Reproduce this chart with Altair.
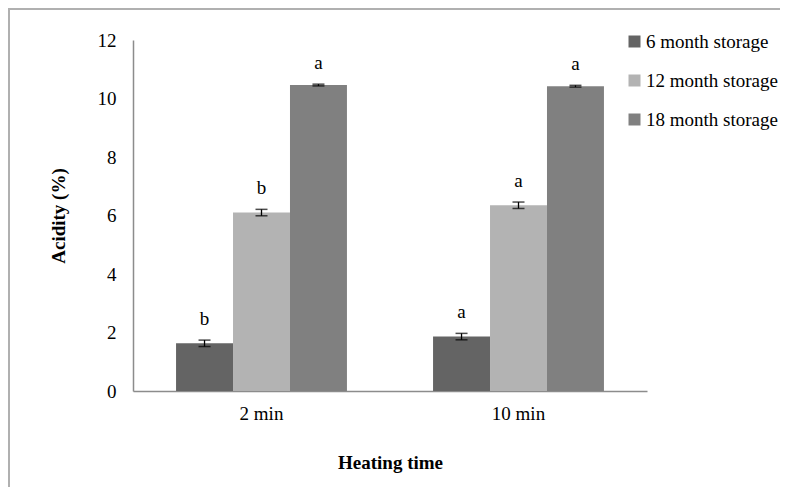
import altair as alt
import pandas as pd

times = ["2 min", "10 min"]
storages = ["6 month storage", "12 month storage", "18 month storage"]
acidity_2min = [1.63, 6.10, 10.46]
acidity_10min = [1.86, 6.35, 10.42]
err_2min = [0.11, 0.11, 0.03]
err_10min = [0.11, 0.11, 0.03]
letters_2min = ["b", "b", "a"]
letters_10min = ["a", "a", "a"]
colors = ["#646464", "#b3b3b3", "#808080"]

rows = []
for t, vals, errs, lets in [
    (times[0], acidity_2min, err_2min, letters_2min),
    (times[1], acidity_10min, err_10min, letters_10min),
]:
    for s, v, e, l in zip(storages, vals, errs, lets):
        rows.append({"time": t, "storage": s, "acidity": v, "lo": v - e, "hi": v + e, "letter": l})
df = pd.DataFrame(rows)

FONT = "Liberation Serif"
FS = 19

x = alt.X("time:N", sort=times,
          scale=alt.Scale(paddingInner=0.335, paddingOuter=0.1675),
          axis=alt.Axis(title="Heating time", labelAngle=0, ticks=False, labelPadding=13,
                        domainColor="#8c8c8c", domainWidth=1.5, titlePadding=30))
xo = alt.XOffset("storage:N", sort=storages, scale=alt.Scale(paddingInner=0, paddingOuter=0))

base = alt.Chart(df)

bars = base.mark_bar(stroke=None).encode(
    x=x, xOffset=xo,
    y=alt.Y("acidity:Q", scale=alt.Scale(domain=[0, 12], nice=False),
            axis=alt.Axis(title="Acidity (%)", values=[0, 2, 4, 6, 8, 10, 12], ticks=False,
                          grid=False, labelPadding=17, domainColor="#8c8c8c", domainWidth=1.5,
                          titlePadding=29)),
    color=alt.Color("storage:N", sort=storages,
                    scale=alt.Scale(domain=storages, range=colors),
                    legend=alt.Legend(title=None, orient="none", legendX=492, legendY=-8,
                                      symbolType="square", symbolSize=144, symbolStrokeWidth=0,
                                      symbolOpacity=1, labelFontSize=FS, labelFont=FONT,
                                      labelColor="#000", rowPadding=19, labelOffset=2,
                                      labelLimit=300)),
)

rules = base.mark_rule(color="black", strokeWidth=1.3).encode(
    x=x, xOffset=xo, y="lo:Q", y2="hi:Q")
caps_lo = base.mark_tick(color="black", thickness=1.5, size=12, orient="horizontal").encode(
    x=x, xOffset=xo, y="lo:Q")
caps_hi = base.mark_tick(color="black", thickness=1.5, size=12, orient="horizontal").encode(
    x=x, xOffset=xo, y="hi:Q")
labels = base.mark_text(font=FONT, fontSize=FS, dy=-15, color="black", baseline="alphabetic").encode(
    x=x, xOffset=xo, y="hi:Q", text="letter:N", detail="storage:N")

frame = alt.Chart(pd.DataFrame({"k": [0]})).mark_rect(
    fill=None, stroke="#b0b0b0", strokeWidth=2
).encode(x=alt.value(-124), x2=alt.value(800), y=alt.value(-31), y2=alt.value(600))

chart = alt.layer(frame, bars, rules, caps_lo, caps_hi, labels).properties(
    width=514, height=351,
    autosize=alt.AutoSizeParams(type="none"),
    padding={"left": 125, "top": 32, "right": 133, "bottom": 96},
).configure(font=FONT).configure_view(stroke=None).configure_axis(
    labelFont=FONT, labelFontSize=FS, labelColor="#000",
    titleFont=FONT, titleFontSize=FS, titleFontWeight="bold", titleColor="#000",
).configure_legend(labelFont=FONT, labelFontSize=FS)

chart.save("out.html", embed_options={"renderer": "svg", "actions": False})
